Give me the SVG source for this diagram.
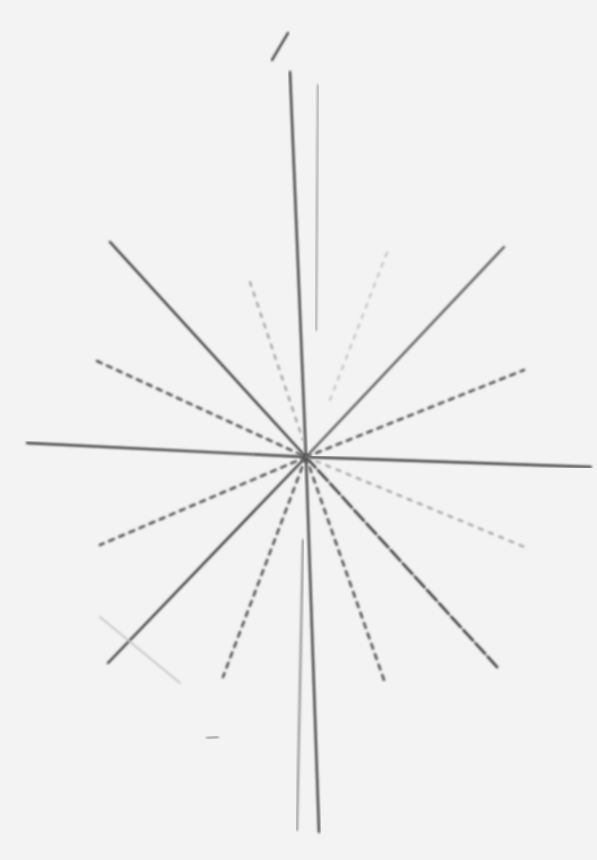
<svg xmlns="http://www.w3.org/2000/svg" width="597" height="860" viewBox="0 0 597 860">
<defs>
<style>
.s{stroke:#3e3e3e;stroke-width:2.4;fill:none;stroke-linecap:round;filter:url(#b)}
.f{stroke:#8a8a8a;stroke-width:2;fill:none;stroke-linecap:round;filter:url(#b)}
.d{stroke:#555555;stroke-width:2.6;fill:none;stroke-dasharray:5 6;stroke-linecap:round;filter:url(#b)}
.fd{stroke:#a0a0a0;stroke-width:2.2;fill:none;stroke-dasharray:4 7;stroke-linecap:round;filter:url(#b)}
</style>
<filter id="b" x="-10%" y="-10%" width="120%" height="120%"><feGaussianBlur stdDeviation="0.8"/></filter>
</defs>
<rect width="597" height="860" fill="#f3f3f3"/>
<g id="sketch">
<line class="s" x1="272" y1="60" x2="288" y2="33"/>
<line class="s" x1="290" y1="72" x2="306" y2="457"/>
<line class="f" x1="318" y1="85" x2="316" y2="330" style="stroke:#a0a0a0"/>
<line class="s" x1="306" y1="457" x2="319" y2="832"/>
<line class="f" x1="303" y1="540" x2="297" y2="830"/>
<line class="s" x1="27" y1="443" x2="306" y2="457"/>
<line class="s" x1="306" y1="457" x2="591" y2="467"/>
<line class="s" x1="110" y1="242" x2="306" y2="457"/>
<line class="s" x1="504" y1="247" x2="306" y2="457" style="stroke:#5a5a5a"/>
<line class="s" x1="108" y1="663" x2="306" y2="457"/>
<line class="d" x1="306" y1="457" x2="498" y2="668" style="stroke:#3e3e3e;stroke-dasharray:14 4"/>
<line class="d" x1="97" y1="361" x2="306" y2="457"/>
<line class="fd" x1="250" y1="282" x2="303" y2="440"/>
<line class="d" x1="306" y1="457" x2="524" y2="370"/>
<line class="fd" x1="330" y1="400" x2="388" y2="250" style="stroke:#c4c4c4"/>
<line class="d" x1="306" y1="457" x2="100" y2="545"/>
<line class="d" x1="306" y1="457" x2="223" y2="677"/>
<line class="fd" x1="306" y1="457" x2="527" y2="548"/>
<line class="d" x1="306" y1="457" x2="384" y2="680"/>
<line class="f" x1="100" y1="617" x2="180" y2="683" style="stroke:#c8c8c8"/>
<line class="f" x1="207" y1="738" x2="218" y2="737"/>
</g>
</svg>
